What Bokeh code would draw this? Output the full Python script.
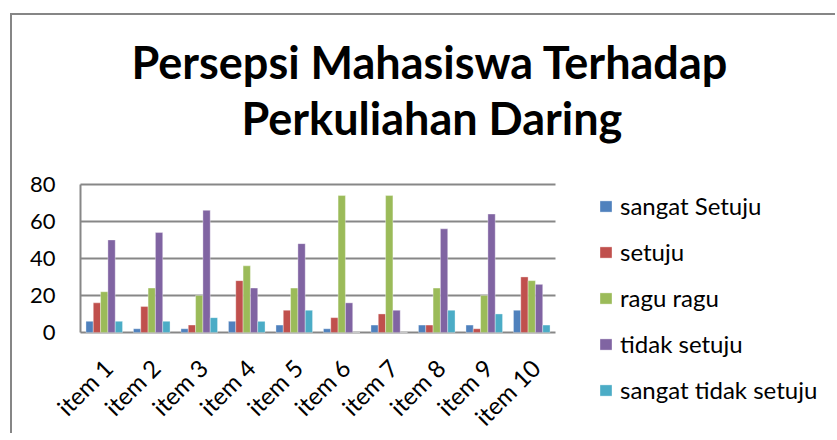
import math
from bokeh.plotting import figure
from bokeh.models import (Range1d, Legend, LegendItem, Title,
                          ColumnDataSource)
from bokeh.core.properties import value
from bokeh.transform import dodge
from bokeh.embed import file_html
from bokeh.resources import INLINE

items = ["item 1", "item 2", "item 3", "item 4", "item 5",
         "item 6", "item 7", "item 8", "item 9", "item 10"]
sangat_setuju = [6, 2, 2, 6, 4, 2, 4, 4, 4, 12]
setuju = [16, 14, 4, 28, 12, 8, 10, 4, 2, 30]
ragu_ragu = [22, 24, 20, 36, 24, 74, 74, 24, 20, 28]
tidak_setuju = [50, 54, 66, 24, 48, 16, 12, 56, 64, 26]
sangat_tidak_setuju = [6, 6, 8, 6, 12, 0, 0, 12, 10, 4]

series_names = ["sangat Setuju", "setuju", "ragu ragu", "tidak setuju",
                "sangat tidak setuju"]
series_keys = ["s1", "s2", "s3", "s4", "s5"]
colors = ["#4F81BD", "#C0504D", "#9BBB59", "#8064A2", "#4BACC6"]
y_ticks = [0, 20, 40, 60, 80]
y_tick_labels = ["0", "20", "40", "60", "80"]

FONT = "Lato"
GRID = "#878787"

n = len(items)
centers = [i + 0.5 for i in range(n)]
source = ColumnDataSource(data=dict(
    xc=centers, items=items, s1=sangat_setuju, s2=setuju, s3=ragu_ragu,
    s4=tidak_setuju, s5=sangat_tidak_setuju))
tick_source = ColumnDataSource(data=dict(y=y_ticks, label=y_tick_labels))

# canvas origin on the page is (12, 15); the frame fills the lower canvas
W, H = 825, 420
FT = 156                                    # frame top in canvas px
ppu_x = 47.5                                # px per category
ppu_y = 148 / 80                            # px per unit (0..80 -> 148px)
axis_px = 68                                # category axis starts here (canvas)
y_top = 87
y_bot = y_top - (H - FT) / ppu_y
x_start = -axis_px / ppu_x
x_end = (W - axis_px) / ppu_x

p = figure(x_range=Range1d(x_start, x_end), y_range=Range1d(y_bot, y_top),
           width=W, height=H, output_backend="svg", toolbar_location=None,
           min_border_left=0, min_border_right=0,
           min_border_top=FT, min_border_bottom=0,
           styles={"margin": "13px 0 0 10px",
                   "border-left": "2px solid #868686",
                   "border-top": "2px solid #868686"})
p.outline_line_color = None
p.background_fill_color = "white"
p.border_fill_color = "white"
p.xaxis.visible = False
p.yaxis.visible = False
p.xgrid.grid_line_color = None
p.ygrid.grid_line_color = None

# gridlines + category axis line (limited to the category span)
p.segment(x0=[0] * len(y_ticks), x1=[n] * len(y_ticks), y0=y_ticks,
          y1=y_ticks, line_color=GRID, line_width=2)
# value axis line
p.segment(x0=[0], x1=[0], y0=[min(y_ticks)], y1=[max(y_ticks)],
          line_color=GRID, line_width=2)

bw = 0.154
renderers = []
for i, (k, c) in enumerate(zip(series_keys, colors)):
    off = (i - 2) * bw
    r = p.vbar(x=dodge("xc", off), top=k, width=bw,
               source=source, fill_color=c, line_color="white",
               line_alpha=0.35, line_width=1)
    renderers.append(r)

# value tick labels
p.text(x=0, y="y", text="label", source=tick_source, x_offset=-25,
       text_align="right", text_baseline="middle",
       text_font=value(FONT), text_font_size="22px", text_color="black")

# category labels, rotated 45 degrees, under the axis
p.text(x="xc", y=0, text="items", source=source, angle=math.pi / 4,
       text_align="right", text_baseline="middle", x_offset=4, y_offset=31,
       text_font=value(FONT), text_font_size="24px", text_color="black")

# legend
legend = Legend(items=[LegendItem(label=nm, renderers=[r])
                       for nm, r in zip(series_names, renderers)],
                location=(586, 31), orientation="vertical",
                glyph_width=15, glyph_height=14, label_height=20,
                label_standoff=7, spacing=17, padding=0, margin=0,
                border_line_color=None, background_fill_alpha=0,
                label_text_font=FONT, label_text_font_size="24px",
                label_text_color="black")
p.add_layout(legend, "center")

# title (two lines) + spacer between frame and title
spacer = Title(text=" ", text_font_size="10px", standoff=14)
t2 = Title(text="Perkuliahan Daring", align="left", offset=229,
           text_font=FONT, text_font_size="45px", text_font_style="bold",
           text_color="black", standoff=0)
t1 = Title(text="Persepsi Mahasiswa Terhadap", align="left", offset=119,
           text_font=FONT, text_font_size="45px", text_font_style="bold",
           text_color="black", standoff=0)
p.add_layout(spacer, "above")
p.add_layout(t2, "above")
p.add_layout(t1, "above")

open("out.html", "w").write(file_html(p, INLINE))
